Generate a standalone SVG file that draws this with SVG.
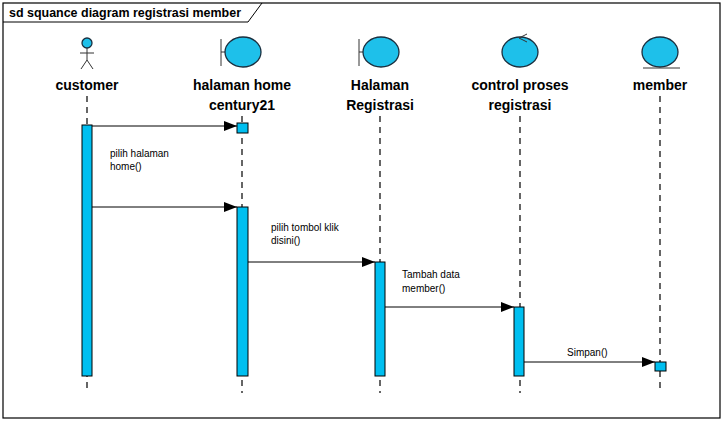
<svg xmlns="http://www.w3.org/2000/svg" width="725" height="423" viewBox="0 0 725 423">
<style>
.t{font-family:"Liberation Sans",Arial,sans-serif}
.n{font-size:14px;font-weight:bold;text-anchor:middle}
.m{font-size:10px}
.ic{fill:#1ec0ea;stroke:#1a3040;stroke-width:1.3}
.ln{stroke:#000;stroke-width:1.2;stroke-dasharray:6,5;fill:none}
.act{fill:#00bff0;stroke:#000;stroke-width:1}
.msg{stroke:#000;stroke-width:1;fill:none;marker-end:url(#ah)}
</style>
<defs><marker id="ah" markerWidth="14" markerHeight="10" refX="13" refY="5" orient="auto" markerUnits="userSpaceOnUse"><path d="M0,0 L13,5 L0,10 Z" fill="#000"/></marker></defs>
<rect width="725" height="423" fill="#fff"/>
<rect x="3" y="3" width="717" height="415" fill="none" stroke="#000" stroke-width="1.2"/>
<path d="M3,22 H248 L262,3" fill="none" stroke="#000" stroke-width="1"/>
<text class="t" x="9" y="17" font-size="12" font-weight="bold" textLength="232" lengthAdjust="spacingAndGlyphs">sd squance diagram registrasi member</text>
<g id="customer">
<circle class="ic" cx="87" cy="43" r="5"/>
<path d="M87,48 V60 M80,53 H94 M87,60 L81,69 M87,60 L93,69" stroke="#333" fill="none"/>
<text class="t n" x="87" y="90">customer</text>
<line class="ln" x1="87" y1="96" x2="87" y2="393"/>
<rect class="act" x="82" y="125" width="10" height="251"/>
</g>
<g id="halamanHome">
<path d="M221,39 V66 M221,52 H225" stroke="#333" fill="none"/>
<ellipse class="ic" cx="243" cy="52" rx="18" ry="15"/>
<text class="t n" x="242" y="90">halaman home</text>
<text class="t n" x="242" y="110">century21</text>
<line class="ln" x1="242" y1="116" x2="242" y2="393"/>
<rect class="act" x="237" y="123" width="11" height="10"/>
<rect class="act" x="237" y="207" width="11" height="169"/>
</g>
<g id="halamanRegistrasi">
<path d="M359,39 V66 M359,52 H363" stroke="#333" fill="none"/>
<ellipse class="ic" cx="381" cy="52" rx="18" ry="15"/>
<text class="t n" x="380" y="90">Halaman</text>
<text class="t n" x="380" y="110">Registrasi</text>
<line class="ln" x1="380" y1="116" x2="380" y2="393"/>
<rect class="act" x="375" y="262" width="10" height="114"/>
</g>
<g id="control">
<ellipse class="ic" cx="520" cy="52" rx="18" ry="15"/>
<path d="M527,34 L519,38 L527,42" stroke="#333" fill="none"/>
<text class="t n" x="520" y="90">control proses</text>
<text class="t n" x="520" y="110">registrasi</text>
<line class="ln" x1="520" y1="116" x2="520" y2="393"/>
<rect class="act" x="514" y="307" width="10" height="69"/>
</g>
<g id="member">
<ellipse class="ic" cx="660" cy="52" rx="18" ry="15"/>
<path d="M643,68 H680" stroke="#333"/>
<text class="t n" x="660" y="90">member</text>
<line class="ln" x1="660" y1="96" x2="660" y2="393"/>
<rect class="act" x="655" y="362" width="11" height="9"/>
</g>
<g id="connectors">
<line class="msg" x1="92" y1="126" x2="237" y2="126"/>
<line class="msg" x1="92" y1="207" x2="237" y2="207"/>
<line class="msg" x1="248" y1="262" x2="375" y2="262"/>
<line class="msg" x1="385" y1="307" x2="514" y2="307"/>
<line class="msg" x1="524" y1="362" x2="655" y2="362"/>
<text class="t m" x="110" y="157">pilih halaman</text>
<text class="t m" x="110" y="170">home()</text>
<text class="t m" x="271" y="231">pilih tombol klik</text>
<text class="t m" x="271" y="244">disini()</text>
<text class="t m" x="402" y="278">Tambah data</text>
<text class="t m" x="402" y="292">member()</text>
<text class="t m" x="567" y="356">Simpan()</text>
</g>
</svg>
